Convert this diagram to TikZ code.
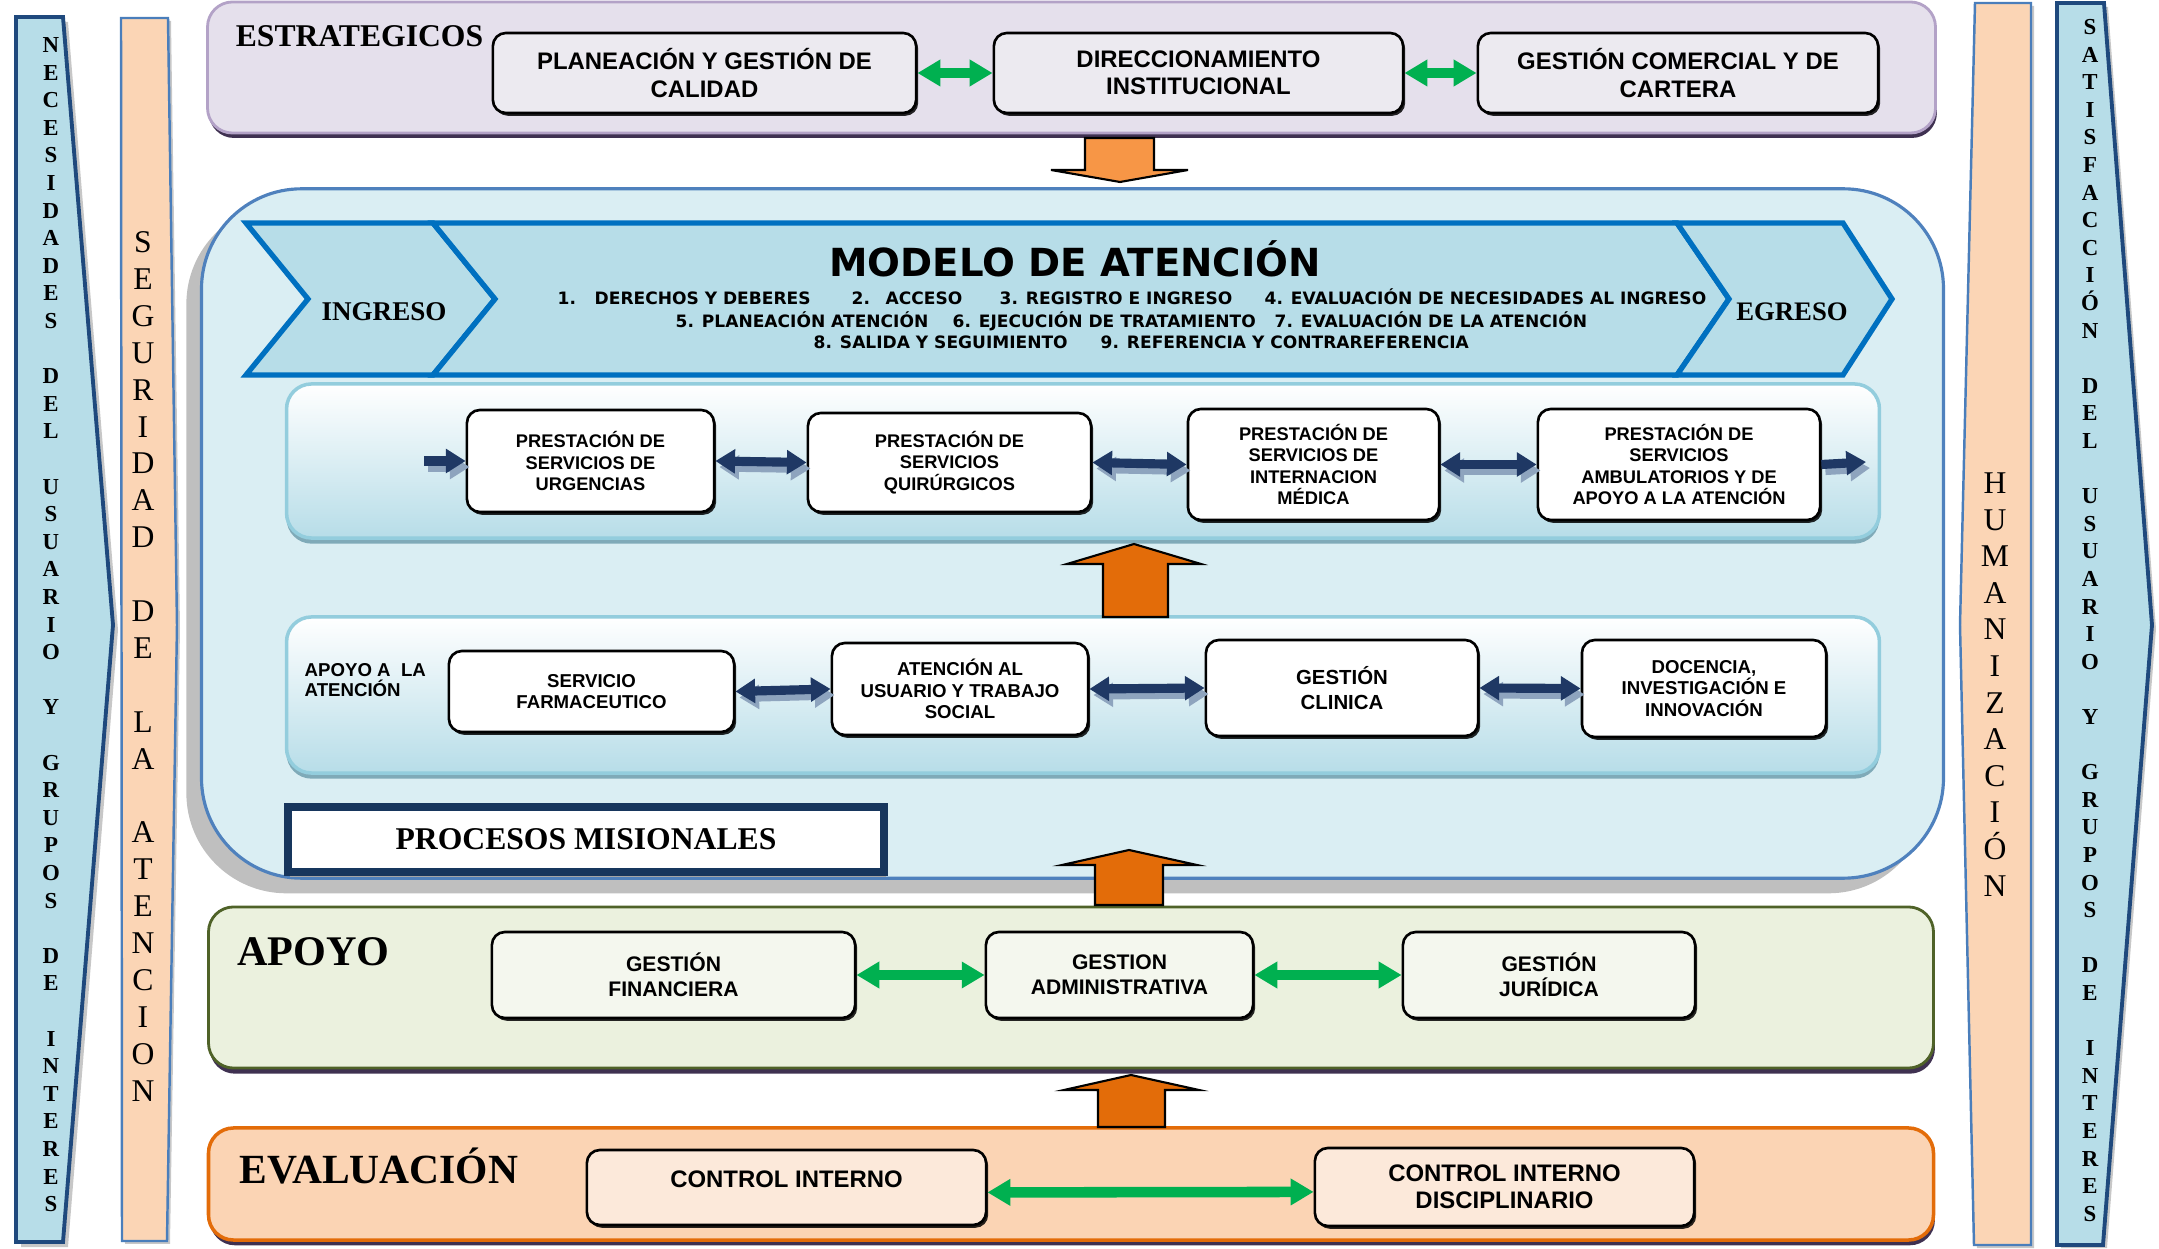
\documentclass[tikz,border=0pt]{standalone}
\usepackage{fontspec}
\setmainfont{Liberation Serif}
\setsansfont{Liberation Sans}
\newfontfamily\tahoma{DejaVu Sans}
\usetikzlibrary{arrows.meta,shadows}

\definecolor{estrfill}{HTML}{E5E0EC}
\definecolor{estrline}{HTML}{B3A2C7}
\definecolor{darkpurple}{HTML}{3F3151}
\definecolor{modfill}{HTML}{DAEEF3}
\definecolor{modline}{HTML}{4F81BD}
\definecolor{chevfill}{HTML}{B7DDE8}
\definecolor{chevline}{HTML}{0070C0}
\definecolor{innerline}{HTML}{93CDDD}
\definecolor{innershadow}{HTML}{7FAAB8}
\definecolor{navyarr}{HTML}{1F3864}
\definecolor{navyshadow}{HTML}{8EA4BE}
\definecolor{procline}{HTML}{17365D}
\definecolor{apoyofill}{HTML}{EBF1DE}
\definecolor{apoyoline}{HTML}{4F6228}
\definecolor{evalfill}{HTML}{FBD4B4}
\definecolor{evalline}{HTML}{E36C09}
\definecolor{arrgreen}{HTML}{00B050}
\definecolor{orlight}{HTML}{F79646}
\definecolor{ordark}{HTML}{E36C09}
\definecolor{barblue}{HTML}{B7DDE8}
\definecolor{barline}{HTML}{1F497D}
\definecolor{peach}{HTML}{FBD5B5}
\definecolor{peachline}{HTML}{4A7EBB}
\definecolor{boxgray}{HTML}{ECEAF0}
\definecolor{boxgreen}{HTML}{F4F7EE}
\definecolor{boxpeach}{HTML}{FCE9DA}

\tikzset{
  sidebar/.style={fill=barblue, draw=barline, line width=1.1pt, line join=miter},
  peachbar/.style={fill=peach, draw=peachline, line width=0.7pt, line join=miter},
  barshadow/.style={fill=black!22},
  vlb/.style={font=\bfseries\fontsize{6.5}{7}\selectfont, inner sep=0pt, text height=4.3pt, text depth=0pt},
  vlr/.style={font=\fontsize{9}{10}\selectfont, inner sep=0pt, text height=6pt, text depth=0pt},
  panel/.style={line width=0.8pt, rounded corners=0.25cm},
  inner/.style={draw=innerline, line width=1pt, top color=white, bottom color=chevfill, rounded corners=0.25cm,
     minimum width=15.92cm, drop shadow={shadow xshift=0pt, shadow yshift=-1.6pt, fill=innershadow, opacity=1}},
  box/.style={draw=black, line width=0.75pt, rounded corners=0.13cm, align=center, inner sep=1pt,
     drop shadow={shadow xshift=0.6pt, shadow yshift=-0.8pt, fill=black, opacity=0.85}},
  fbig/.style={font=\sffamily\bfseries\fontsize{6.8}{7.8}\selectfont},
  fsml/.style={font=\sffamily\bfseries\fontsize{5.2}{6.1}\selectfont},
  ptitle/.style={inner sep=0pt, anchor=base},
  chev/.style={fill=chevfill, draw=chevline, line width=1.5pt, line join=miter},
  mline/.style={anchor=base west, inner sep=0pt, font=\tahoma\bfseries\fontsize{4.85}{5}\selectfont},
  garr/.style={draw=arrgreen, line width=3pt, {Triangle[width=7.2pt,length=6.5pt]}-{Triangle[width=7.2pt,length=6.5pt]}},
  narr/.style={draw=navyarr, line width=2.6pt, {Triangle[width=6.6pt,length=5.6pt]}-{Triangle[width=6.6pt,length=5.6pt]}},
  nshad/.style={draw=navyshadow, line width=2.6pt, {Triangle[width=6.6pt,length=5.6pt]}-{Triangle[width=6.6pt,length=5.6pt]}},
  narrone/.style={draw=navyarr, line width=2.6pt, -{Triangle[width=6.6pt,length=5.6pt]}},
  nshadone/.style={draw=navyshadow, line width=2.6pt, -{Triangle[width=6.6pt,length=5.6pt]}},
  oarrow/.style={draw=black, line width=0.6pt, line join=miter},
}

\begin{document}
\begin{tikzpicture}[x=0.01cm,y=-0.01cm]
\useasboundingbox (0,0) rectangle (2159,1249);

% ---------- side bars ----------
\fill[barshadow] (21,22) -- (68,22) -- (118,630) -- (68,1247) -- (21,1247) -- cycle;
\draw[sidebar] (16,17) -- (63,17) -- (113,625) -- (63,1242) -- (16,1242) -- cycle;
\fill[barshadow] (124,21) -- (171,21) -- (180,628) -- (170,1244) -- (125,1244) -- cycle;
\draw[peachbar] (121,18) -- (168,18) -- (177,625) -- (167,1241) -- (122,1241) -- cycle;
\fill[barshadow] (1978,6) -- (2034,6) -- (2034,1248) -- (1977,1248) -- (1963,628) -- cycle;
\draw[peachbar] (1975,3) -- (2031,3) -- (2031,1245) -- (1974,1245) -- (1960,625) -- cycle;
\fill[barshadow] (2061,7) -- (2108,7) -- (2156,629) -- (2107,1248) -- (2061,1248) -- cycle;
\draw[sidebar] (2057,3) -- (2104,3) -- (2152,625) -- (2103,1245) -- (2057,1245) -- cycle;

\foreach \c [count=\i from 0] in {N,E,C,E,S,I,D,A,D,E,S,-,D,E,L,-,U,S,U,A,R,I,O,-,Y,-,G,R,U,P,O,S,-,D,E,-,I,N,T,E,R,E,S}{
  \if\c-\else\node[vlb] (nl\i) at (51,{45+27.6*\i}) {\c};\fi}
\foreach \c [count=\i from 0] in {S,E,G,U,R,I,D,A,D,-,D,E,-,L,A,-,A,T,E,N,C,I,O,N}{
  \if\c-\else\node[vlr] (sg\i) at (143,{242+36.9*\i}) {\c};\fi}
\foreach \c [count=\i from 0] in {H,U,M,A,N,I,Z,A,C,I,Ó,N}{
  \node[vlr] (hu\i) at (1995,{483+36.6*\i}) {\c};}
\foreach \c [count=\i from 0] in {S,A,T,I,S,F,A,C,C,I,Ó,N,-,D,E,L,-,U,S,U,A,R,I,O,-,Y,-,G,R,U,P,O,S,-,D,E,-,I,N,T,E,R,E,S}{
  \if\c-\else\node[vlb] (sa\i) at (2090,{27+27.6*\i}) {\c};\fi}

% ---------- ESTRATEGICOS ----------
\node[panel, fill=estrfill, draw=estrline, minimum width=17.27cm, minimum height=1.31cm,
  drop shadow={shadow xshift=0.4pt, shadow yshift=-1.4pt, fill=darkpurple, opacity=1}] (estr) at (1071.5,67.5) {};
\node[ptitle, font=\bfseries\fontsize{9}{10}\selectfont] (estrt) at (359.5,46.5) {ESTRATEGICOS};
\node[box, fbig, fill=boxgray, minimum width=4.23cm, minimum height=0.8cm] (pl) at (704.5,73) {PLANEACIÓN Y GESTIÓN DE\\CALIDAD};
\node[box, fbig, fill=boxgray, minimum width=4.09cm, minimum height=0.8cm] (dir) at (1198.5,73) {DIRECCIONAMIENTO\\INSTITUCIONAL};
\node[box, fbig, fill=boxgray, minimum width=4.0cm, minimum height=0.8cm] (gcom) at (1678,73) {GESTIÓN COMERCIAL Y DE\\CARTERA};
\draw[garr] (pl.east) -- (dir.west);
\draw[garr] (dir.east) -- (gcom.west);

% ---------- MODELO ----------
\node[fill=modfill, draw=modline, line width=0.9pt, rounded corners=1cm, minimum width=17.41cm, minimum height=6.89cm,
  drop shadow={shadow xshift=-4.3pt, shadow yshift=-4.3pt, fill=black!25, opacity=1}] (modelo) at (1072.5,533.5) {};

\draw[oarrow, fill=orlight] (1085,138) -- (1154,138) -- (1154,170) -- (1188,170) -- (1120,182) -- (1051,170) -- (1085,170) -- cycle;

\draw[chev] (246,223) -- (433,223) -- (495,299) -- (433,375) -- (246,375) -- (308,299) -- cycle;
\draw[chev] (433,223) -- (1677,223) -- (1729,299) -- (1677,375) -- (433,375) -- (495,299) -- cycle;
\draw[chev] (1677,223) -- (1843,223) -- (1892,299) -- (1843,375) -- (1677,375) -- (1729,299) -- cycle;
\node[ptitle, font=\bfseries\fontsize{7.7}{9}\selectfont] (ingreso) at (384,321) {INGRESO};
\node[ptitle, font=\bfseries\fontsize{7.6}{9}\selectfont] (egreso) at (1792,321) {EGRESO};
\node[ptitle, font=\tahoma\bfseries\fontsize{11}{12}\selectfont] (mtitle) at (1075,277) {MODELO DE ATENCIÓN};

\node[mline] (m1) at (557,305) {1.};
\node[mline] (m1b) at (594,305) {DERECHOS Y DEBERES};
\node[mline] (m2) at (851,305) {2.};
\node[mline] (m2b) at (885,305) {ACCESO};
\node[mline] (m3) at (999,305) {3. REGISTRO E INGRESO};
\node[mline] (m4) at (1264,305) {4. EVALUACIÓN DE NECESIDADES AL INGRESO};
\node[mline] (m5) at (675,328) {5. PLANEACIÓN ATENCIÓN};
\node[mline] (m6) at (952,328) {6. EJECUCIÓN DE TRATAMIENTO};
\node[mline] (m7) at (1274,328) {7. EVALUACIÓN DE LA ATENCIÓN};
\node[mline] (m8) at (813,349) {8. SALIDA Y SEGUIMIENTO};
\node[mline] (m9) at (1100,349) {9. REFERENCIA Y CONTRAREFERENCIA};

% inner panel: prestacion
\node[inner, minimum height=1.54cm] (pres) at (1083,461) {};
\node[box, fsml, fill=white, minimum width=2.47cm, minimum height=1.02cm] (urg) at (590.5,461) {PRESTACIÓN DE\\SERVICIOS DE\\URGENCIAS};
\node[box, fsml, fill=white, minimum width=2.83cm, minimum height=0.99cm] (qui) at (949.5,462.5) {PRESTACIÓN DE\\SERVICIOS\\QUIRÚRGICOS};
\node[box, fsml, fill=white, minimum width=2.51cm, minimum height=1.11cm] (int) at (1313.5,464.5) {PRESTACIÓN DE\\SERVICIOS DE\\INTERNACION\\MÉDICA};
\node[box, fsml, fill=white, minimum width=2.82cm, minimum height=1.11cm] (amb) at (1679,464.5) {PRESTACIÓN DE\\SERVICIOS\\AMBULATORIOS Y DE\\APOYO A LA ATENCIÓN};
\coordinate (inL) at (424,461);
\coordinate (outR) at (1866,462);
\draw[nshadone] ([shift={(4,6)}]inL) -- ([shift={(4,6)}]urg.west);
\draw[nshad] ([shift={(4,6)}]urg.east) -- ([shift={(4,6)}]qui.west);
\draw[nshad] ([shift={(4,6)}]qui.east) -- ([shift={(4,6)}]int.west);
\draw[nshad] ([shift={(4,6)}]int.east) -- ([shift={(4,6)}]amb.west);
\draw[nshadone] ([shift={(4,6)}]amb.east) -- ([shift={(4,6)}]outR);
\draw[narrone] (inL) -- (urg.west);
\draw[narr] (urg.east) -- (qui.west);
\draw[narr] (qui.east) -- (int.west);
\draw[narr] (int.east) -- (amb.west);
\draw[narrone] (amb.east) -- (outR);

% inner panel: apoyo a la atencion
\node[inner, minimum height=1.56cm] (apat) at (1083,695) {};
\draw[oarrow, fill=ordark] (1103,617) -- (1103,564) -- (1067,564) -- (1134,544) -- (1201,564) -- (1168,564) -- (1168,617) -- cycle;
\node[anchor=base west, align=left, inner sep=0pt, font=\sffamily\bfseries\fontsize{5.3}{5.7}\selectfont] (apatt) at (304,697) {APOYO A\ \ LA\\ATENCIÓN};
\node[box, font=\sffamily\bfseries\fontsize{5.3}{6.2}\selectfont, fill=white, minimum width=2.85cm, minimum height=0.81cm] (far) at (591.5,691.5) {SERVICIO\\FARMACEUTICO};
\node[box, font=\sffamily\bfseries\fontsize{5.3}{6.2}\selectfont, fill=white, minimum width=2.56cm, minimum height=0.92cm] (ate) at (960,689) {ATENCIÓN AL\\USUARIO Y TRABAJO\\SOCIAL};
\node[box, font=\sffamily\bfseries\fontsize{5.8}{7}\selectfont, fill=white, minimum width=2.72cm, minimum height=0.96cm] (gcl) at (1342,688) {GESTIÓN\\CLINICA};
\node[box, font=\sffamily\bfseries\fontsize{5.3}{6.2}\selectfont, fill=white, minimum width=2.44cm, minimum height=0.97cm] (doc) at (1704,688.5) {DOCENCIA,\\INVESTIGACIÓN E\\INNOVACIÓN};
\draw[nshad] ([shift={(4,6)}]far.east) -- ([shift={(4,6)}]ate.west);
\draw[nshad] ([shift={(4,6)}]ate.east) -- ([shift={(4,6)}]gcl.west);
\draw[nshad] ([shift={(4,6)}]gcl.east) -- ([shift={(4,6)}]doc.west);
\draw[narr] (far.east) -- (ate.west);
\draw[narr] (ate.east) -- (gcl.west);
\draw[narr] (gcl.east) -- (doc.west);

% procesos misionales
\node[draw=procline, line width=2.3pt, fill=white, minimum width=5.96cm, minimum height=0.65cm, inner sep=0pt,
  font=\bfseries\fontsize{9}{10}\selectfont,
  drop shadow={shadow xshift=0.5pt, shadow yshift=-1.5pt, fill=black!35, opacity=1}] (proc) at (586,839.5) {PROCESOS MISIONALES};

% ---------- APOYO ----------
\node[panel, fill=apoyofill, draw=apoyoline, minimum width=17.24cm, minimum height=1.61cm,
  drop shadow={shadow xshift=0.4pt, shadow yshift=-1.6pt, fill=darkpurple, opacity=1}] (apoyo) at (1071,987.5) {};
\draw[oarrow, fill=ordark] (1095,905) -- (1095,865) -- (1062,865) -- (1129,850) -- (1197,865) -- (1163,865) -- (1163,905) -- cycle;
\node[ptitle, font=\bfseries\fontsize{12}{13}\selectfont] (apoyot) at (313.5,966) {APOYO};
\node[box, font=\sffamily\bfseries\fontsize{6}{7}\selectfont, fill=boxgreen, minimum width=3.63cm, minimum height=0.86cm] (fin) at (673.5,975) {GESTIÓN\\FINANCIERA};
\node[box, font=\sffamily\bfseries\fontsize{6}{7}\selectfont, fill=boxgreen, minimum width=2.67cm, minimum height=0.86cm] (adm) at (1119.5,975) {GESTION\\ADMINISTRATIVA};
\node[box, font=\sffamily\bfseries\fontsize{6}{7}\selectfont, fill=boxgreen, minimum width=2.92cm, minimum height=0.86cm] (jur) at (1549,975) {GESTIÓN\\JURÍDICA};
\draw[garr] (fin.east) -- (adm.west);
\draw[garr] (adm.east) -- (jur.west);

% ---------- EVALUACION ----------
\node[panel, fill=evalfill, draw=evalline, line width=1pt, minimum width=17.24cm, minimum height=1.12cm,
  drop shadow={shadow xshift=0.4pt, shadow yshift=-1.5pt, fill=darkpurple, opacity=1}] (eval) at (1071,1184) {};
\draw[oarrow, fill=ordark] (1098,1127) -- (1098,1090) -- (1064,1090) -- (1131,1075) -- (1199,1090) -- (1165,1090) -- (1165,1127) -- cycle;
\node[ptitle, font=\bfseries\fontsize{11.8}{13}\selectfont] (evalt) at (379,1183.5) {EVALUACIÓN};
\node[box, fbig, fill=boxpeach, minimum width=3.99cm, minimum height=0.75cm] (ci) at (786.5,1187.5) {\raisebox{5pt}{CONTROL INTERNO}};
\node[box, fbig, fill=boxpeach, minimum width=3.79cm, minimum height=0.78cm] (cid) at (1504.5,1187) {CONTROL INTERNO\\DISCIPLINARIO};
\draw[garr] ([yshift=-1.4pt]ci.east) -- ([yshift=-1.4pt]cid.west);

\end{tikzpicture}
\end{document}
